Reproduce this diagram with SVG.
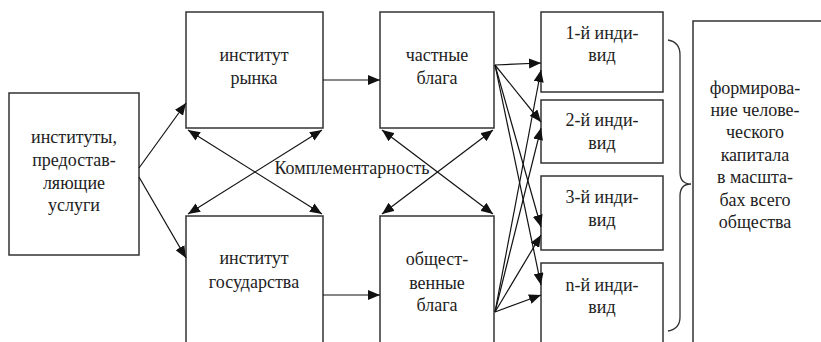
<svg xmlns="http://www.w3.org/2000/svg" width="821" height="342" viewBox="0 0 821 342" font-family="'Liberation Serif', serif">
<defs>
<marker id="ah" viewBox="0 0 12 10" refX="12" refY="5" markerWidth="12" markerHeight="10" markerUnits="userSpaceOnUse" orient="auto-start-reverse">
<path d="M0,0 L12,5 L0,10 Z" fill="#111"/>
</marker>
</defs>
<style>
.box{fill:#fff;stroke:#333;stroke-width:1.5}
.t{font-family:'Liberation Serif',serif;font-size:18px;fill:#222;text-anchor:middle}
.ln{stroke:#111;stroke-width:1.2;marker-end:url(#ah)}
.dl{marker-start:url(#ah)}
</style>
<rect width="821" height="342" fill="#fff"/>
<g id="services"><rect class="box" x="9" y="93" width="130" height="162"/>
<text class="t" x="74" y="143">институты,</text><text class="t" x="74" y="166">предостав-</text><text class="t" x="74" y="189">ляющие</text><text class="t" x="74" y="211">услуги</text></g>
<g id="market"><rect class="box" x="186" y="12" width="137" height="116"/>
<text class="t" x="254" y="61">институт</text><text class="t" x="254" y="84">рынка</text></g>
<g id="state"><rect class="box" x="186" y="216" width="137" height="140"/>
<text class="t" x="254" y="264">институт</text><text class="t" x="254" y="288">государства</text></g>
<g id="private"><rect class="box" x="380" y="12" width="114" height="116"/>
<text class="t" x="437" y="61">частные</text><text class="t" x="437" y="84">блага</text></g>
<g id="public"><rect class="box" x="380" y="216" width="114" height="140"/>
<text class="t" x="437" y="265">общест-</text><text class="t" x="437" y="289">венные</text><text class="t" x="437" y="311">блага</text></g>
<g id="ind1"><rect class="box" x="541" y="12" width="122" height="80"/>
<text class="t" x="602" y="39">1-й инди-</text><text class="t" x="602" y="61">вид</text></g>
<g id="ind2"><rect class="box" x="541" y="100" width="122" height="63"/>
<text class="t" x="602" y="126">2-й инди-</text><text class="t" x="602" y="149">вид</text></g>
<g id="ind3"><rect class="box" x="541" y="176" width="122" height="74"/>
<text class="t" x="602" y="203">3-й инди-</text><text class="t" x="602" y="226">вид</text></g>
<g id="indn"><rect class="box" x="541" y="263" width="122" height="90"/>
<text class="t" x="602" y="291">n-й инди-</text><text class="t" x="602" y="313">вид</text></g>
<g id="result"><rect class="box" x="693" y="21" width="140" height="340"/>
<text class="t" x="755" y="94">формирова-</text><text class="t" x="755" y="116">ние челове-</text><text class="t" x="755" y="138">ческого</text><text class="t" x="755" y="161">капитала</text><text class="t" x="755" y="183">в масшта-</text><text class="t" x="755" y="206">бах всего</text><text class="t" x="755" y="228">общества</text></g>
<g id="connectors">
<line class="ln" x1="139" y1="168" x2="186" y2="103"/>
<line class="ln" x1="139" y1="177" x2="186" y2="258"/>
<line class="ln" x1="323" y1="80" x2="380" y2="80"/>
<line class="ln" x1="323" y1="295" x2="380" y2="295"/>
<line class="ln dl" x1="188" y1="130" x2="322" y2="214"/>
<line class="ln dl" x1="322" y1="130" x2="188" y2="214"/>
<line class="ln dl" x1="382" y1="130" x2="493" y2="214"/>
<line class="ln dl" x1="493" y1="130" x2="382" y2="214"/>
<line class="ln" x1="495" y1="65" x2="541" y2="63"/>
<line class="ln" x1="495" y1="65" x2="541" y2="122"/>
<line class="ln" x1="495" y1="65" x2="541" y2="227"/>
<line class="ln" x1="495" y1="65" x2="541" y2="285"/>
<line class="ln" x1="495" y1="312" x2="541" y2="70"/>
<line class="ln" x1="495" y1="312" x2="541" y2="128"/>
<line class="ln" x1="495" y1="312" x2="541" y2="235"/>
<line class="ln" x1="495" y1="312" x2="541" y2="295"/>
</g>
<text class="t" x="352" y="174">Комплементарность</text>
<path id="brace" d="M668,40 Q680,42 680,55 L680,172 Q680,184 691,184 Q680,184 680,196 L680,317 Q680,329 668,331" fill="none" stroke="#333" stroke-width="1.3"/>
</svg>
